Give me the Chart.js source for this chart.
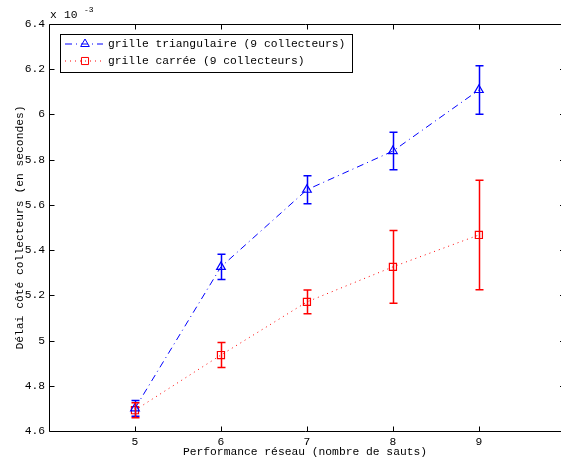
<!DOCTYPE html>
<html>
<head>
<meta charset="utf-8">
<script src="https://cdn.jsdelivr.net/npm/chart.js@4.4.1/dist/chart.umd.min.js"></script>
<style>
  html, body { margin: 0; padding: 0; overflow: hidden; background: #fff; }
  #chart { position: absolute; left: 0; top: 0; }
</style>
</head>
<body>
<canvas id="chart" width="561" height="463"></canvas>
<script>
// hops (nombre de sauts)
const hops = [5, 6, 7, 8, 9];
// délai moyen, x 10^-3 s
const triMean = [4.700, 5.326, 5.667, 5.838, 6.108];
const triErr = [0.035, 0.056, 0.062, 0.083, 0.107];
const sqMean = [4.692, 4.936, 5.171, 5.326, 5.467];
const sqErr = [0.033, 0.055, 0.053, 0.161, 0.242];
const xTicks = [5, 6, 7, 8, 9];
const yTicks = [4.6, 4.8, 5.0, 5.2, 5.4, 5.6, 5.8, 6.0, 6.2, 6.4];
const labels = ['grille triangulaire (9 collecteurs)', 'grille carrée (9 collecteurs)'];

const FONT = 'Liberation Mono, DejaVu Sans Mono, monospace';
const BLUE = '#0000ff';
const RED = '#ff0000';

const toPoints = (xs, ys) => xs.map((x, i) => ({ x, y: ys[i] }));

// error bars, drawn from the data through the scales
const errorBars = {
  id: 'errorBars',
  afterDatasetsDraw(chart) {
    const { ctx, scales: { x, y } } = chart;
    chart.data.datasets.forEach(ds => {
      if (!ds.errors) return;
      ctx.save();
      ctx.strokeStyle = ds.borderColor;
      ctx.lineWidth = 1.5;
      ds.data.forEach((p, i) => {
        const px = Math.round(x.getPixelForValue(p.x)) + 0.5;
        const top = y.getPixelForValue(p.y + ds.errors[i]);
        const bot = y.getPixelForValue(p.y - ds.errors[i]);
        ctx.beginPath();
        ctx.moveTo(px, top); ctx.lineTo(px, bot);
        ctx.moveTo(px - 4, top); ctx.lineTo(px + 4, top);
        ctx.moveTo(px - 4, bot); ctx.lineTo(px + 4, bot);
        ctx.stroke();
      });
      ctx.restore();
    });
  }
};

// matlab style box (right side runs off the page), inner ticks, legend and exponent
const matlabBox = {
  id: 'matlabBox',
  afterDraw(chart) {
    const { ctx, chartArea: a, scales: { x, y } } = chart;
    const L = Math.round(a.left) + 0.5, T = Math.round(a.top) + 0.5, B = Math.round(a.bottom) + 0.5;
    ctx.save();
    ctx.strokeStyle = '#000';
    ctx.lineWidth = 1;
    ctx.beginPath();
    ctx.moveTo(a.right + 10, T); ctx.lineTo(L, T); ctx.lineTo(L, B); ctx.lineTo(a.right + 10, B);
    xTicks.forEach(v => {
      const px = Math.round(x.getPixelForValue(v)) + 0.5;
      ctx.moveTo(px, B); ctx.lineTo(px, B - 5);
      ctx.moveTo(px, T); ctx.lineTo(px, T + 5);
    });
    yTicks.forEach(v => {
      const py = Math.round(y.getPixelForValue(v)) + 0.5;
      ctx.moveTo(L, py); ctx.lineTo(L + 5, py);
      ctx.moveTo(a.right + 4, py); ctx.lineTo(a.right - 1, py);
    });
    ctx.stroke();

    // exponent
    ctx.fillStyle = '#000';
    ctx.textBaseline = 'middle';
    ctx.font = '11.3px ' + FONT;
    ctx.fillText('x', a.left + 1, a.top - 9);
    ctx.fillText('10', a.left + 15, a.top - 9);
    ctx.font = '8px ' + FONT;
    ctx.fillText('-3', a.left + 35, a.top - 14);

    // legend
    const lx = a.left + 11, ly = a.top + 10;
    ctx.fillStyle = '#fff';
    ctx.fillRect(lx, ly, 292, 38);
    ctx.strokeStyle = '#000';
    ctx.strokeRect(lx + 0.5, ly + 0.5, 292, 38);
    chart.data.datasets.forEach((ds, i) => {
      const ry = ly + 10 + i * 17;
      ctx.save();
      ctx.strokeStyle = ds.borderColor;
      ctx.setLineDash(ds.borderDash);
      ctx.beginPath();
      ctx.moveTo(lx + 5, ry); ctx.lineTo(lx + 43, ry);
      ctx.stroke();
      ctx.setLineDash([]);
      ctx.fillStyle = 'rgba(0,0,0,0)';
      Chart.helpers.drawPoint(ctx, {
        pointStyle: ds.pointStyle, radius: ds.pointRadius, rotation: 0, borderWidth: 1
      }, lx + 25, ry);
      ctx.restore();
      ctx.fillStyle = '#000';
      ctx.font = '11.3px ' + FONT;
      ctx.textBaseline = 'middle';
      ctx.fillText(ds.label, lx + 48, ry);
    });
    ctx.restore();
  }
};

new Chart(document.getElementById('chart'), {
  type: 'line',
  data: {
    datasets: [
      {
        label: labels[0],
        data: toPoints(hops, triMean),
        errors: triErr,
        borderColor: BLUE,
        borderWidth: 1,
        borderDash: [7, 4, 1, 4],
        pointStyle: 'triangle',
        pointRadius: 5,
        pointBorderColor: BLUE,
        pointBackgroundColor: 'rgba(0,0,0,0)',
        pointBorderWidth: 1.2,
        tension: 0
      },
      {
        label: labels[1],
        data: toPoints(hops, sqMean),
        errors: sqErr,
        borderColor: RED,
        borderWidth: 1,
        borderDash: [1, 4],
        pointStyle: 'rect',
        pointRadius: 5,
        pointBorderColor: RED,
        pointBackgroundColor: 'rgba(0,0,0,0)',
        pointBorderWidth: 1.2,
        tension: 0
      }
    ]
  },
  options: {
    responsive: false,
    animation: false,
    devicePixelRatio: 1,
    layout: { autoPadding: false, padding: { top: 24, right: 0, left: 0, bottom: 0 } },
    plugins: {
      legend: { display: false },
      tooltip: { enabled: false }
    },
    scales: {
      x: {
        type: 'linear',
        min: 4,
        max: 9.955,   // axis runs to 10, cut at the page edge
        afterBuildTicks: s => { s.ticks = xTicks.map(v => ({ value: v })); },
        afterFit: s => { s.height = 32; s.paddingLeft = 0; s.paddingRight = 0; },
        grid: { display: false, drawTicks: false },
        border: { display: false },
        ticks: { color: '#000', padding: 4, maxRotation: 0, font: { family: FONT, size: 11.3 } },
        title: {
          display: true,
          text: 'Performance réseau (nombre de sauts)',
          color: '#000',
          padding: { top: 0, bottom: 4 },
          font: { family: FONT, size: 11.3 }
        }
      },
      y: {
        type: 'linear',
        min: 4.6,
        max: 6.4,
        afterBuildTicks: s => { s.ticks = yTicks.map(v => ({ value: v })); },
        afterFit: s => { s.width = 49; },
        grid: { display: false, drawTicks: false },
        border: { display: false },
        ticks: {
          color: '#000',
          padding: 4,
          font: { family: FONT, size: 11.3 },
          callback: v => String(Number(v.toFixed(1)))
        },
        title: {
          display: true,
          text: 'Délai côté collecteurs (en secondes)',
          color: '#000',
          padding: { top: 13, bottom: 0 },
          font: { family: FONT, size: 11.3 }
        }
      }
    }
  },
  plugins: [errorBars, matlabBox]
});
</script>
</body>
</html>
